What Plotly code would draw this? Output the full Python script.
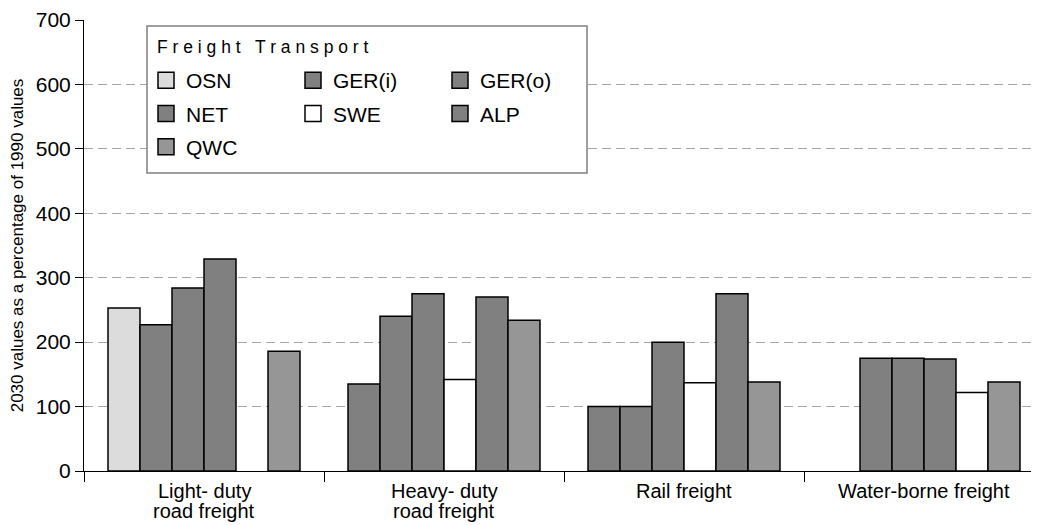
import plotly.graph_objects as go

# ---------------- data ----------------
categories = ["Light- duty<br>road freight", "Heavy- duty<br>road freight",
              "Rail freight", "Water-borne freight"]
series_names = ["OSN", "GER(i)", "GER(o)", "NET", "SWE", "ALP", "QWC"]
osn = [253, None, None, None]
ger_i = [227, 135, 100, 175]
ger_o = [284, 240, 100, 175]
net = [329, 275, 200, 174]
swe = [None, 142, 137, 122]
alp = [None, 270, 275, None]
qwc = [186, 234, 138, 138]
values = {"OSN": osn, "GER(i)": ger_i, "GER(o)": ger_o, "NET": net,
          "SWE": swe, "ALP": alp, "QWC": qwc}
# which series sits in each of the six bar slots of every category
slot_layout = [
    ["OSN", "GER(i)", "GER(o)", "NET", None, "QWC"],
    ["GER(i)", "GER(o)", "NET", "SWE", "ALP", "QWC"],
    ["GER(i)", "GER(o)", "NET", "SWE", "ALP", "QWC"],
    [None, "GER(i)", "GER(o)", "NET", "SWE", "QWC"],
]
y_ticks = [0, 100, 200, 300, 400, 500, 600, 700]

# ---------------- style ----------------
colors = {"OSN": "#dcdcdc", "GER(i)": "#808080", "GER(o)": "#808080",
          "NET": "#808080", "SWE": "#ffffff", "ALP": "#808080", "QWC": "#969696"}
legend_of = {"OSN": "legend", "NET": "legend", "QWC": "legend",
             "GER(i)": "legend2", "SWE": "legend2",
             "GER(o)": "legend3", "ALP": "legend3"}
FONT = "Liberation Sans, Arial, sans-serif"
n_slots = 6
group_w = 0.8
bar_w = group_w / n_slots

fig = go.Figure()
for name in series_names:
    xs, ys, offs = [], [], []
    for ci, cat in enumerate(categories):
        v = values[name][ci]
        if v is None or name not in slot_layout[ci]:
            continue
        k = slot_layout[ci].index(name)
        xs.append(cat)
        ys.append(v)
        offs.append(-group_w / 2 + k * bar_w)
    fig.add_trace(go.Bar(
        x=xs, y=ys, offset=offs, width=bar_w, name=name,
        marker=dict(color=colors[name], line=dict(color="#000000", width=1.5)),
        showlegend=False, legendgroup=name,
    ))
    # legend entry (bigger square symbol)
    fig.add_trace(go.Scatter(
        x=[None], y=[None], mode="markers", name=name, legendgroup=name,
        legend=legend_of[name],
        marker=dict(symbol="square", size=16, color=colors[name],
                    line=dict(color="#000000", width=1.5)),
    ))

# page body has an 8px margin, so the figure is 8px smaller than the window
W, H = 1031, 518
ml, mr, mt, mb = 76, 0, 12, 55
pw, ph = W - ml - mr, H - mt - mb
cat_px = 240.0
REF_L, REF_B = 84, 471   # plot-area left / bottom in window pixels


def px(x):
    return (x - REF_L) / pw


def py(y):
    return (REF_B - y) / ph


leg_common = dict(bgcolor="rgba(0,0,0,0)", borderwidth=0,
                  font=dict(family=FONT, size=21, color="#000000"),
                  xanchor="left", yanchor="top", tracegroupgap=3,
                  orientation="v")

# category labels, one annotation per text line (tighter line spacing)
cat_annotations = []
for cat in categories:
    for li, line in enumerate(cat.split("<br>")):
        cat_annotations.append(dict(
            text=line, xref="x", x=cat, yref="paper", y=0,
            yanchor="middle", xanchor="center", yshift=-20 - 20 * li,
            showarrow=False, font=dict(family=FONT, size=20, color="#000000")))

fig.update_layout(
    width=W, height=H,
    margin=dict(l=ml, r=mr, t=mt, b=mb, autoexpand=False),
    paper_bgcolor="#ffffff", plot_bgcolor="#ffffff",
    barmode="overlay",
    font=dict(family=FONT, size=20, color="#000000"),
    legend=dict(x=px(146), y=py(60), **leg_common),
    legend2=dict(x=px(293), y=py(60), **leg_common),
    legend3=dict(x=px(440), y=py(60), **leg_common),
    xaxis=dict(
        type="category", categoryorder="array", categoryarray=categories,
        range=[-0.5, -0.5 + pw / cat_px], automargin=False,
        showline=True, linecolor="#000000", linewidth=1,
        ticks="outside", ticklen=10, tickcolor="#000000", tickson="boundaries",
        showticklabels=False,
        showgrid=False, zeroline=False, fixedrange=True,
    ),
    yaxis=dict(
        range=[0, 700], tickvals=y_ticks, automargin=False,
        showline=True, linecolor="#000000", linewidth=1,
        ticks="outside", ticklen=8, tickcolor="#000000",
        tickfont=dict(family=FONT, size=21, color="#000000"),
        showgrid=True, gridcolor="#a6a6a6", gridwidth=1, griddash="9px,5px",
        zeroline=False,
        title=dict(text="2030 values as a percentage of 1990 values",
                   font=dict(family=FONT, size=17, color="#000000"), standoff=8),
    ),
    shapes=[dict(type="rect", xref="paper", yref="paper",
                 x0=px(147), x1=px(587), y0=py(173), y1=py(26),
                 line=dict(color="#808080", width=1.5),
                 fillcolor="#ffffff", layer="above")],
    annotations=[dict(text="F r e i g h t   T r a n s p o r t",
                      xref="paper", yref="paper", x=px(155), y=py(47),
                      xanchor="left", yanchor="middle", showarrow=False,
                      font=dict(family=FONT, size=17.5, color="#000000"))]
    + cat_annotations,
)

fig.write_html("out.html")
